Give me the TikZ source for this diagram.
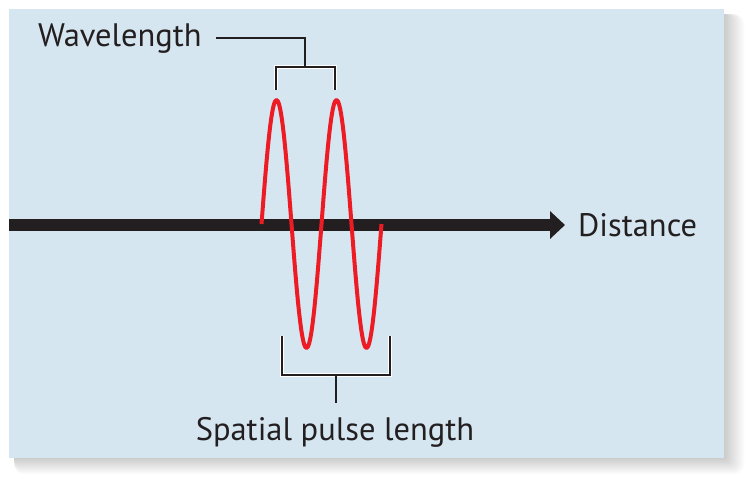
\documentclass[tikz,border=0pt]{standalone}
\usepackage{fontspec}
\setmainfont{PT Sans}
\usetikzlibrary{arrows.meta}
\definecolor{panelblue}{RGB}{214,230,240}
\definecolor{pulsered}{RGB}{237,28,36}
\definecolor{inkblack}{RGB}{35,31,32}

\begin{document}
\begin{tikzpicture}[x=1pt, y=-1pt,
label/.style={inner sep=0, font=\fontsize{32.5}{38}\selectfont, text=inkblack},
axis/.style={inkblack, line width=12pt, -{Triangle[length=15pt, width=27pt]}},
pulse/.style={pulsered, line width=4pt, line join=round},
bracket/.style={inkblack, line width=2.2pt},
halo/.style={white, line width=3.8pt},
]

%%%%%%%%%%%%%%%%%%%%%%%% PANEL %%%%%%%%%%%%%%%%%%%%%%%%
\useasboundingbox (0,0) rectangle (746,480);
\fill[white] (0,0) rectangle (746,480);
\foreach \i in {1,...,10}{
  \fill[black, opacity=.02, rounded corners=\i pt] (14,14) rectangle (724+2*\i,458+1.6*\i);
}
\fill[panelblue] (9,9) rectangle (724,458);

%%%%%%%%%%%%%%%%%%%%%%%% AXIS %%%%%%%%%%%%%%%%%%%%%%%%
\coordinate (AxisStart) at (9,225);
\coordinate (AxisEnd) at (565,225);
\draw[axis] (AxisStart) -- (AxisEnd);
\node[label, anchor=base west] (distance) at (578,236) {Distance};

%%%%%%%%%%%%%%%%%%%%%%%% PULSE %%%%%%%%%%%%%%%%%%%%%%%%
\draw[pulse] plot[domain=0:720, samples=97, smooth] ({261.5+\x/6}, {224-124*sin(\x)});

%%%%%%%%%%%%%%%%%%%%%%%% WAVELENGTH %%%%%%%%%%%%%%%%%%%%%%%%
\node[label, anchor=base west] (wavelength) at (38,46) {Wavelength};
\coordinate (WLa) at (276,90);
\coordinate (WLb) at (276,67);
\coordinate (WLc) at (335,67);
\coordinate (WLd) at (335,90);
\coordinate (WLmid) at (305,67);
\draw[halo] (WLa) -- (WLb) -- (WLc) -- (WLd);
\draw[bracket] (WLa) -- (WLb) -- (WLc) -- (WLd);
\draw[bracket, shorten >=14pt] (WLmid) |- (wavelength.east);

%%%%%%%%%%%%%%%%%%%%%%%% SPATIAL PULSE LENGTH %%%%%%%%%%%%%%%%%%%%%%%%
\node[label, anchor=base] (spatial) at (335,440) {Spatial pulse length};
\coordinate (SPa) at (282,336);
\coordinate (SPb) at (282,375);
\coordinate (SPc) at (390,375);
\coordinate (SPd) at (390,336);
\coordinate (SPmid) at (336,375);
\draw[halo] (SPa) -- (SPb) -- (SPc) -- (SPd);
\draw[bracket] (SPa) -- (SPb) -- (SPc) -- (SPd);
\draw[bracket, shorten >=14pt] (SPmid) -- (SPmid |- spatial.north);

\end{tikzpicture}
\end{document}
